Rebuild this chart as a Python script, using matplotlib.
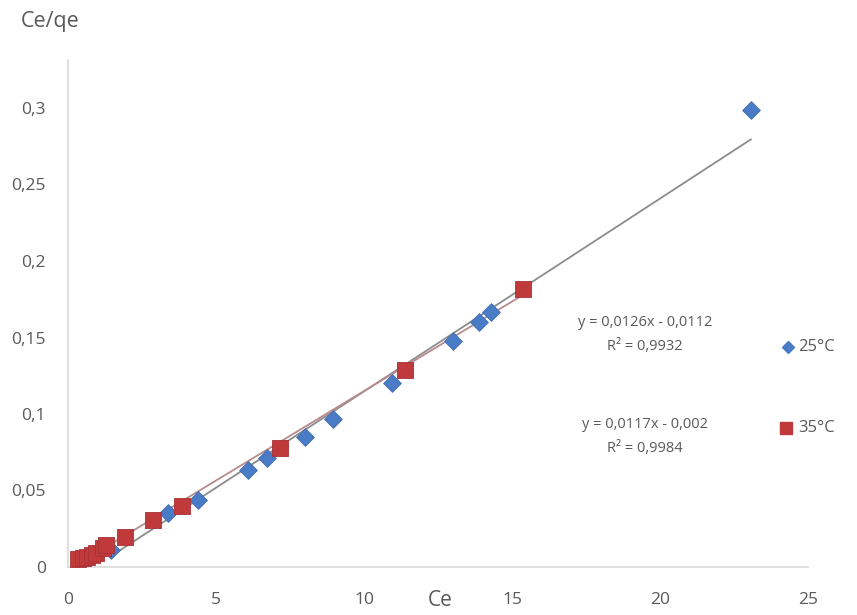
import matplotlib
matplotlib.use("Agg")
import matplotlib.pyplot as plt
import numpy as np
from matplotlib.ticker import FuncFormatter, FixedLocator

plt.rcParams['font.family'] = ['Open Sans', 'DejaVu Sans']

# 25 °C series (blue diamonds)
ce_25 = [1.45, 3.38, 4.39, 6.08, 6.72, 8.0, 8.95, 10.95, 13.0, 13.9, 14.3, 23.07]
q_25 = [0.011, 0.035, 0.0438, 0.0634, 0.071, 0.085, 0.097, 0.120, 0.148, 0.160, 0.1667, 0.299]
# 35 °C series (red squares)
ce_35 = [0.35, 0.5, 0.65, 0.8, 0.95, 1.18, 1.3, 1.93, 2.87, 3.85, 7.16, 11.39, 15.37]
q_35 = [0.005, 0.006, 0.0065, 0.008, 0.009, 0.0125, 0.0144, 0.0196, 0.0307, 0.040, 0.0778, 0.1288, 0.182]

# trend line coefficients (slope, intercept)
fit_25 = (0.0126, -0.0112)
fit_35 = (0.0117, -0.002)
eq_25 = ["y = 0,0126x - 0,0112", "R² = 0,9932"]
eq_35 = ["y = 0,0117x - 0,002", "R² = 0,9984"]
labels = ["25°C", "35°C"]

x_ticks = [0, 5, 10, 15, 20, 25]
y_ticks = [0, 0.05, 0.1, 0.15, 0.2, 0.25, 0.3]

fig = plt.figure(figsize=(8.57, 6.15), dpi=100)
ax = fig.add_axes([68/857, 1-567/615, (808-68)/857, (567-60)/615])

txt = '#595959'
blue = '#4a7bc6'
red = '#c0393b'

# trend lines
xs = np.array([min(ce_25), max(ce_25)])
ax.plot(xs, fit_25[0]*xs + fit_25[1], color='#8c8c8c', lw=1.3, zorder=2)
xs = np.array([min(ce_35), max(ce_35)])
ax.plot(xs, fit_35[0]*xs + fit_35[1], color='#b88a8c', lw=1.3, zorder=2)

ax.scatter(ce_25, q_25, marker='D', s=82, color=blue, edgecolors='#3f6cb0', linewidths=0.6, zorder=3)
ax.scatter(ce_35, q_35, marker='s', s=120, color=red, edgecolors='#a83033', linewidths=0.6, zorder=4)

ax.set_xlim(0, 25)
ax.set_ylim(0, (567-60)/1530)
ax.xaxis.set_major_locator(FixedLocator(x_ticks))
ax.yaxis.set_major_locator(FixedLocator(y_ticks))
fmt = FuncFormatter(lambda v, p: ('%g' % v).replace('.', ','))
ax.xaxis.set_major_formatter(fmt)
ax.yaxis.set_major_formatter(fmt)
ax.tick_params(axis='both', length=0, labelsize=12.5, colors=txt)
ax.tick_params(axis='x', pad=18)
ax.tick_params(axis='y', pad=16)

for s in ['top', 'right']:
    ax.spines[s].set_visible(False)
for s in ['left', 'bottom']:
    ax.spines[s].set_color('#d9d9d9')
    ax.spines[s].set_linewidth(1.2)

fig.text(440/857, 1-600/615, "Ce", fontsize=15, color=txt, ha='center', va='center')
fig.text(50/857, 1-22/615, "Ce/qe", fontsize=15.5, color=txt, ha='center', va='center')

fig.text(645/857, 1-323/615, eq_25[0], fontsize=10.5, color=txt, ha='center', va='center')
fig.text(645/857, 1-347/615, eq_25[1], fontsize=10.5, color=txt, ha='center', va='center')
fig.text(645/857, 1-425/615, eq_35[0], fontsize=10.5, color=txt, ha='center', va='center')
fig.text(645/857, 1-449/615, eq_35[1], fontsize=10.5, color=txt, ha='center', va='center')

# legend
fig.lines.append(plt.Line2D([788/857], [1-347/615], marker='D', markersize=6, color=blue,
                            linestyle='none', transform=fig.transFigure))
fig.text(798/857, 1-347/615, labels[0], fontsize=12, color=txt, ha='left', va='center')
fig.lines.append(plt.Line2D([786/857], [1-428/615], marker='s', markersize=9, color=red,
                            linestyle='none', transform=fig.transFigure))
fig.text(798/857, 1-428/615, labels[1], fontsize=12, color=txt, ha='left', va='center')

fig.savefig("out.png", dpi=100)
